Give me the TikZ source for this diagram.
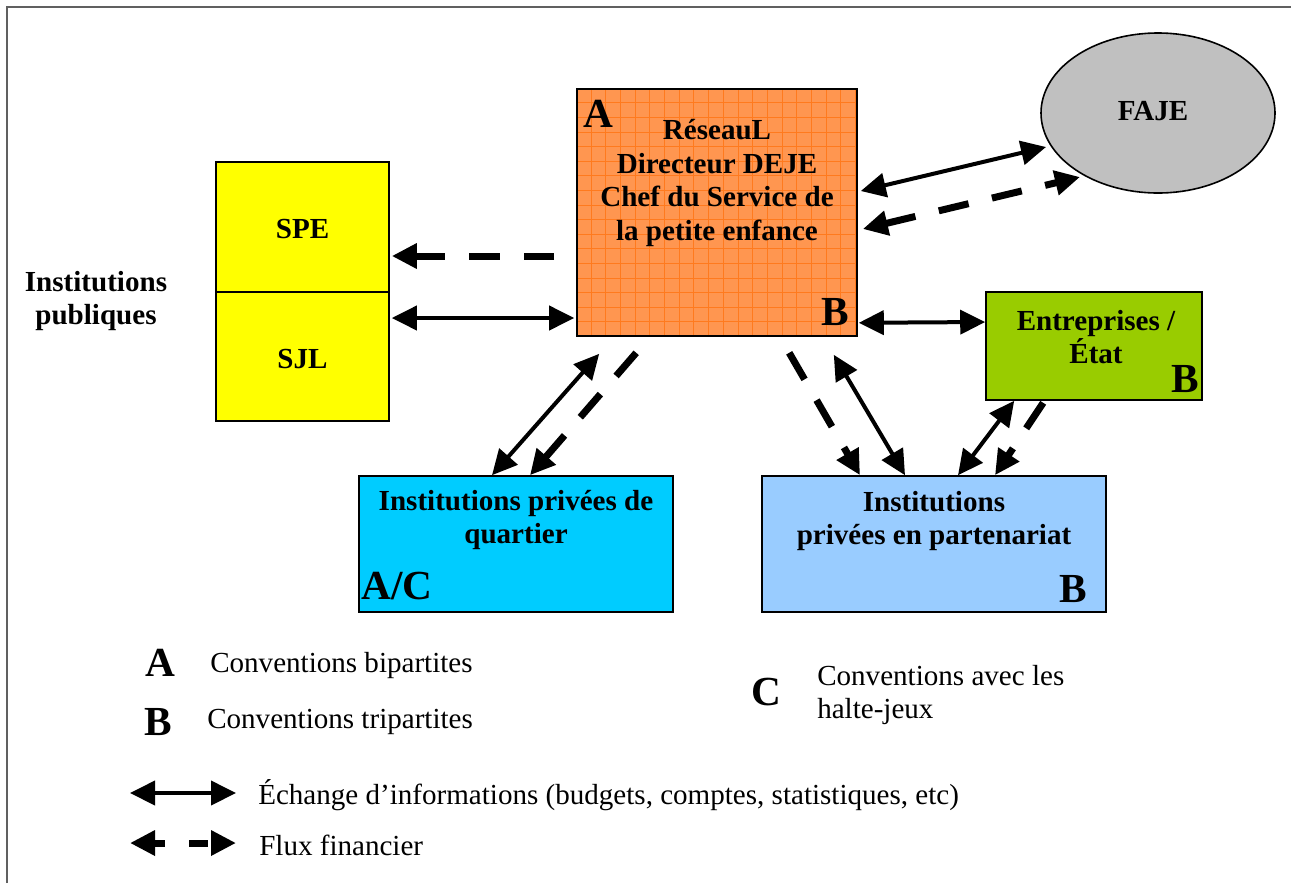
\documentclass[tikz,border=0pt]{standalone}
\usepackage{fontspec}
\setmainfont{Liberation Serif}
\usetikzlibrary{arrows.meta,calc,shapes.geometric}
\definecolor{framegray}{RGB}{96,96,96}
\definecolor{spey}{RGB}{255,255,0}
\definecolor{orfill}{RGB}{255,150,80}
\definecolor{orgrid}{RGB}{255,122,30}
\definecolor{fajegray}{RGB}{192,192,192}
\definecolor{entgreen}{RGB}{153,204,0}
\definecolor{quartcyan}{RGB}{0,204,255}
\definecolor{partblue}{RGB}{153,204,255}
\begin{document}
\begin{tikzpicture}[x=0.75pt,y=-0.75pt,
  >={Triangle[length=18.75pt,width=18pt]},
  box/.style={draw=black, line width=1.2pt, inner sep=0pt},
  txt/.style={font=\fontsize{21.8}{25.4}\selectfont\bfseries, align=center, inner sep=0pt},
  big/.style={font=\fontsize{31}{32}\selectfont\bfseries, inner sep=0pt},
  leg/.style={font=\fontsize{21.8}{25.4}\selectfont, inner sep=0pt, anchor=west, align=left},
  sarr/.style={line width=3pt, <->},
  farr/.style={line width=5.25pt, dash pattern=on 23pt off 18pt, ->},
  farrb/.style={line width=5.25pt, dash pattern=on 23pt off 18pt, <->},
  gridline/.style={draw=orgrid, line width=0.6pt}]
\useasboundingbox (0,0) rectangle (1291,883);
\draw[framegray, line width=1.5pt] (7,883) -- (7,7) -- (1291,7);

% boxes
\node[box, fill=spey, minimum width=129.75pt, minimum height=97.5pt] (spe) at (302.5,227) {};
\node[box, fill=spey, minimum width=129.75pt, minimum height=96.75pt] (sjl) at (302.5,356.5) {};
\node[txt] (spet) at (302.5,229) {SPE};
\node[txt] (sjlt) at (302.5,359) {SJL};
\node[txt] (pub) at (96,301) {Institutions\\publiques};

\node[box, fill=orfill, minimum width=210pt, minimum height=185.25pt] (orange) at (717,212.5) {};
\begin{scope}
  \clip (orange.south west) rectangle (orange.north east);
  \foreach \i in {1,...,19} \draw[gridline] ($(orange.north west)+(\i*14.7,0)$) -- ++(0,247);
  \foreach \j in {1,...,17} \draw[gridline] ($(orange.north west)+(0,\j*14.6)$) -- ++(280,0);
\end{scope}
\node[box, minimum width=210pt, minimum height=185.25pt] (orangeb) at (717,212.5) {};
\node[txt] (oratxt) at (717,183) {RéseauL\\Directeur DEJE\\Chef du Service de\\la petite enfance};
\node[big] (oraA) at (598,114) {A};
\node[big] (oraB) at (835,312) {B};

\node[box, ellipse, fill=fajegray, minimum width=175.5pt, minimum height=120pt] (faje) at (1158,113) {};
\node[txt] (fajet) at (1153,111) {FAJE};

\node[box, fill=entgreen, minimum width=162pt, minimum height=81pt] (ent) at (1094,346) {};
\node[txt] (entt) at (1096,337) {Entreprises /\\État};
\node[big] (entB) at (1185,379) {B};

\node[box, fill=quartcyan, minimum width=235.5pt, minimum height=102pt] (quart) at (516,544) {};
\node[txt] (quartt) at (516,520) {Institutions privées de\\quartier};
\node[big] (quartAC) at (397,586) {A/C};

\node[box, fill=partblue, minimum width=258pt, minimum height=102pt] (part) at (934,544) {};
\node[txt] (partt) at (934,521) {Institutions\\privées en partenariat};
\node[big] (partB) at (1073,589) {B};

% connectors
\draw[sarr] ($(sjl.east)+(2,-38.5)$) -- ($(orange.west)+(-2,105.5)$);
\draw[farr] ($(orange.west)+(-22,43.5)$) -- ($(spe.east)+(2,29)$);
\draw[sarr] ($(orange.east)+(3,-21.5)$) -- ($(faje.center)+(-112,34)$);
\draw[farrb] ($(orange.east)+(5,16.5)$) -- ($(faje.center)+(-78,64)$);
\draw[sarr] ($(orange.south east)+(1,-14)$) -- ($(ent.west)+(0,-24)$);
\draw[sarr] ($(orange.south west)+(23,17)$) -- ($(quart.north)+(-24,0)$);
\draw[farr] ($(orange.south west)+(60,16)$) -- ($(quart.north)+(14,0)$);
\draw[farr] ($(orange.south west)+(213,16)$) -- ($(part.north)+(-74,0)$);
\draw[sarr] ($(orange.south east)+(-24,18)$) -- ($(part.north)+(-29,0)$);
\draw[sarr] ($(ent.south west)+(29,0)$) -- ($(part.north)+(24,0)$);
\draw[farr] ($(ent.south west)+(58,2)$) -- ($(part.north)+(61,0)$);

% legend
\node[big] (legA) at (160,663) {A};
\node[leg] (legAt) at (210,665) {Conventions bipartites};
\node[big] (legB) at (158,722) {B};
\node[leg] (legBt) at (207,722) {Conventions tripartites};
\node[big] (legC) at (766,692) {C};
\node[leg] (legCt) at (817,695) {Conventions avec les\\halte-jeux};
\coordinate (l1a) at (130,793);
\coordinate (l1b) at (236,793);
\coordinate (l2a) at (130,843);
\coordinate (l2b) at (236,843);
\draw[sarr] (l1a) -- (l1b);
\draw[line width=5.25pt, dash pattern=on 9pt off 18pt on 14pt off 40pt, <->] (l2a) -- (l2b);
\node[leg] (l1t) at (258,795) {Échange d’informations (budgets, comptes, statistiques, etc)};
\node[leg] (l2t) at (259,845) {Flux financier};
\end{tikzpicture}
\end{document}
